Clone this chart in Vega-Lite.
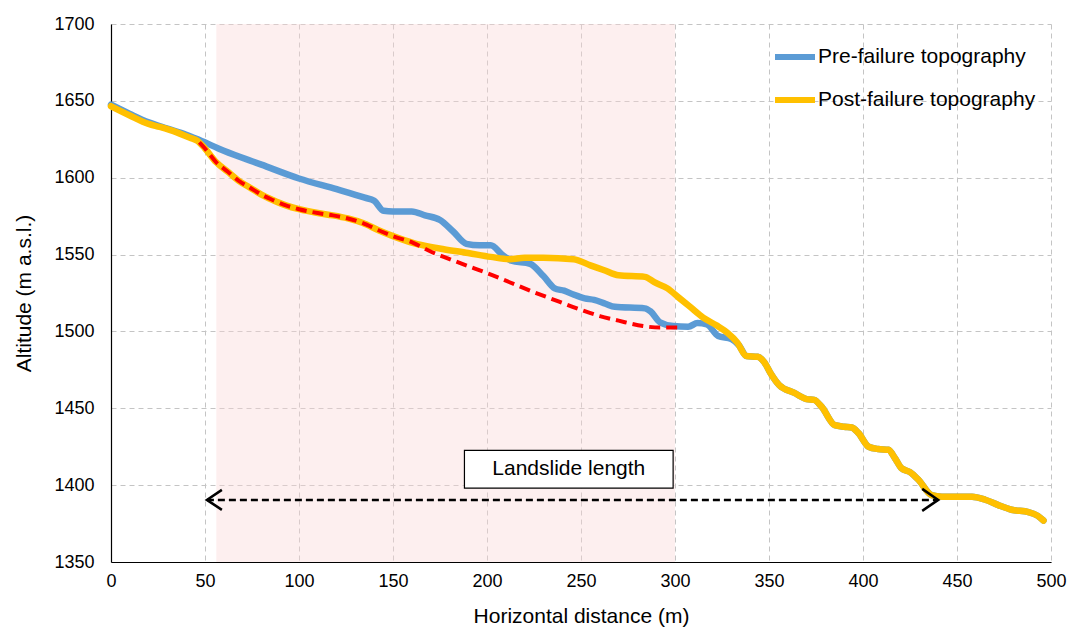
{
  "$schema": "https://vega.github.io/schema/vega-lite/v6.json",
  "width": 940,
  "height": 538,
  "autosize": {"type": "none"},
  "padding": {"left": 111, "top": 24, "right": 18, "bottom": 65},
  "background": "white",
  "config": {
    "view": {"stroke": null},
    "font": "Liberation Sans",
    "axis": {
      "grid": true,
      "gridColor": "#c4c4c4",
      "gridDash": [5, 4],
      "gridWidth": 1,
      "domainColor": "#000000",
      "domainWidth": 1.2,
      "ticks": false,
      "labelFont": "Liberation Sans",
      "labelFontSize": 18,
      "labelColor": "#000000",
      "titleFont": "Liberation Sans",
      "titleFontSize": 21,
      "titleFontWeight": "normal",
      "titleColor": "#000000",
      "format": "d"
    },
    "axisX": {"labelPadding": 10, "titlePadding": 15, "labelFlush": false},
    "axisY": {"labelPadding": 17, "titlePadding": 19},
    "legend": {
      "orient": "none",
      "legendX": 661,
      "legendY": 10,
      "padding": 0,
      "symbolOffset": 0,
      "symbolSize": 1600,
      "symbolStrokeWidth": 6,
      "labelFont": "Liberation Sans",
      "labelFontSize": 21,
      "labelColor": "#000000",
      "labelOffset": 0,
      "rowPadding": 8,
      "labelLimit": 400
    }
  },
  "datasets": {
    "topo": [
      {"series": "Pre-failure topography", "x": 0, "y": 1647.5},
      {"series": "Pre-failure topography", "x": 10, "y": 1641.5},
      {"series": "Pre-failure topography", "x": 20, "y": 1636},
      {"series": "Pre-failure topography", "x": 30, "y": 1632},
      {"series": "Pre-failure topography", "x": 40, "y": 1628},
      {"series": "Pre-failure topography", "x": 47, "y": 1624.5},
      {"series": "Pre-failure topography", "x": 60, "y": 1617.5},
      {"series": "Pre-failure topography", "x": 80, "y": 1608.5},
      {"series": "Pre-failure topography", "x": 100, "y": 1599.5},
      {"series": "Pre-failure topography", "x": 120, "y": 1592.5},
      {"series": "Pre-failure topography", "x": 135, "y": 1587},
      {"series": "Pre-failure topography", "x": 140, "y": 1585},
      {"series": "Pre-failure topography", "x": 145, "y": 1578.5},
      {"series": "Pre-failure topography", "x": 150, "y": 1578},
      {"series": "Pre-failure topography", "x": 160, "y": 1578},
      {"series": "Pre-failure topography", "x": 167, "y": 1575.5},
      {"series": "Pre-failure topography", "x": 175, "y": 1572.5},
      {"series": "Pre-failure topography", "x": 182, "y": 1565},
      {"series": "Pre-failure topography", "x": 189, "y": 1557},
      {"series": "Pre-failure topography", "x": 196, "y": 1556},
      {"series": "Pre-failure topography", "x": 202, "y": 1556},
      {"series": "Pre-failure topography", "x": 208, "y": 1550},
      {"series": "Pre-failure topography", "x": 213, "y": 1546},
      {"series": "Pre-failure topography", "x": 223, "y": 1544},
      {"series": "Pre-failure topography", "x": 230, "y": 1536},
      {"series": "Pre-failure topography", "x": 236, "y": 1528},
      {"series": "Pre-failure topography", "x": 241, "y": 1526.5},
      {"series": "Pre-failure topography", "x": 246, "y": 1524},
      {"series": "Pre-failure topography", "x": 252, "y": 1521.5},
      {"series": "Pre-failure topography", "x": 257, "y": 1520.5},
      {"series": "Pre-failure topography", "x": 263, "y": 1518},
      {"series": "Pre-failure topography", "x": 268, "y": 1516},
      {"series": "Pre-failure topography", "x": 284, "y": 1515},
      {"series": "Pre-failure topography", "x": 287, "y": 1513},
      {"series": "Pre-failure topography", "x": 292, "y": 1506},
      {"series": "Pre-failure topography", "x": 299, "y": 1503.5},
      {"series": "Pre-failure topography", "x": 307, "y": 1503},
      {"series": "Pre-failure topography", "x": 312, "y": 1505.5},
      {"series": "Pre-failure topography", "x": 317, "y": 1504.5},
      {"series": "Pre-failure topography", "x": 323, "y": 1497},
      {"series": "Pre-failure topography", "x": 330, "y": 1495},
      {"series": "Pre-failure topography", "x": 334, "y": 1491},
      {"series": "Pre-failure topography", "x": 338, "y": 1484},
      {"series": "Pre-failure topography", "x": 344, "y": 1483.5},
      {"series": "Pre-failure topography", "x": 347.5, "y": 1480},
      {"series": "Pre-failure topography", "x": 351, "y": 1472.5},
      {"series": "Pre-failure topography", "x": 355.5, "y": 1465},
      {"series": "Pre-failure topography", "x": 363.5, "y": 1460},
      {"series": "Pre-failure topography", "x": 370, "y": 1456},
      {"series": "Pre-failure topography", "x": 374, "y": 1455.5},
      {"series": "Pre-failure topography", "x": 378, "y": 1451},
      {"series": "Pre-failure topography", "x": 385, "y": 1439},
      {"series": "Pre-failure topography", "x": 390, "y": 1438},
      {"series": "Pre-failure topography", "x": 394, "y": 1437.5},
      {"series": "Pre-failure topography", "x": 397.5, "y": 1434},
      {"series": "Pre-failure topography", "x": 403, "y": 1425},
      {"series": "Pre-failure topography", "x": 408, "y": 1423.5},
      {"series": "Pre-failure topography", "x": 413.5, "y": 1423},
      {"series": "Pre-failure topography", "x": 417, "y": 1417.5},
      {"series": "Pre-failure topography", "x": 420.5, "y": 1411},
      {"series": "Pre-failure topography", "x": 425, "y": 1408.5},
      {"series": "Pre-failure topography", "x": 429.5, "y": 1403.5},
      {"series": "Pre-failure topography", "x": 436.5, "y": 1393.5},
      {"series": "Pre-failure topography", "x": 442, "y": 1392.5},
      {"series": "Pre-failure topography", "x": 458, "y": 1392.5},
      {"series": "Pre-failure topography", "x": 465, "y": 1390.5},
      {"series": "Pre-failure topography", "x": 472, "y": 1387},
      {"series": "Pre-failure topography", "x": 479, "y": 1384},
      {"series": "Pre-failure topography", "x": 488, "y": 1382.5},
      {"series": "Pre-failure topography", "x": 493, "y": 1380},
      {"series": "Pre-failure topography", "x": 496, "y": 1377},
      {"series": "Post-failure topography", "x": 0, "y": 1646.5},
      {"series": "Post-failure topography", "x": 10, "y": 1640.5},
      {"series": "Post-failure topography", "x": 20, "y": 1635},
      {"series": "Post-failure topography", "x": 26, "y": 1633},
      {"series": "Post-failure topography", "x": 35, "y": 1629.5},
      {"series": "Post-failure topography", "x": 42, "y": 1626},
      {"series": "Post-failure topography", "x": 46, "y": 1624},
      {"series": "Post-failure topography", "x": 50, "y": 1619},
      {"series": "Post-failure topography", "x": 56, "y": 1610},
      {"series": "Post-failure topography", "x": 62, "y": 1604},
      {"series": "Post-failure topography", "x": 68, "y": 1598},
      {"series": "Post-failure topography", "x": 74, "y": 1593.5},
      {"series": "Post-failure topography", "x": 80, "y": 1589},
      {"series": "Post-failure topography", "x": 86, "y": 1585.5},
      {"series": "Post-failure topography", "x": 93, "y": 1582},
      {"series": "Post-failure topography", "x": 100, "y": 1579.5},
      {"series": "Post-failure topography", "x": 110, "y": 1577},
      {"series": "Post-failure topography", "x": 118, "y": 1575.5},
      {"series": "Post-failure topography", "x": 126, "y": 1573.5},
      {"series": "Post-failure topography", "x": 134, "y": 1570.5},
      {"series": "Post-failure topography", "x": 142, "y": 1566},
      {"series": "Post-failure topography", "x": 150, "y": 1562},
      {"series": "Post-failure topography", "x": 161, "y": 1557.5},
      {"series": "Post-failure topography", "x": 170, "y": 1555},
      {"series": "Post-failure topography", "x": 177, "y": 1553.5},
      {"series": "Post-failure topography", "x": 190, "y": 1551},
      {"series": "Post-failure topography", "x": 202, "y": 1548.5},
      {"series": "Post-failure topography", "x": 212, "y": 1547},
      {"series": "Post-failure topography", "x": 220, "y": 1548},
      {"series": "Post-failure topography", "x": 230, "y": 1548},
      {"series": "Post-failure topography", "x": 246, "y": 1547},
      {"series": "Post-failure topography", "x": 255, "y": 1543},
      {"series": "Post-failure topography", "x": 262, "y": 1540},
      {"series": "Post-failure topography", "x": 270, "y": 1536.5},
      {"series": "Post-failure topography", "x": 284, "y": 1535.5},
      {"series": "Post-failure topography", "x": 289, "y": 1532},
      {"series": "Post-failure topography", "x": 296, "y": 1528},
      {"series": "Post-failure topography", "x": 302, "y": 1522},
      {"series": "Post-failure topography", "x": 308, "y": 1516},
      {"series": "Post-failure topography", "x": 315, "y": 1509},
      {"series": "Post-failure topography", "x": 322, "y": 1504},
      {"series": "Post-failure topography", "x": 328, "y": 1499},
      {"series": "Post-failure topography", "x": 333, "y": 1493},
      {"series": "Post-failure topography", "x": 338, "y": 1484},
      {"series": "Post-failure topography", "x": 344, "y": 1483.5},
      {"series": "Post-failure topography", "x": 347.5, "y": 1480},
      {"series": "Post-failure topography", "x": 351, "y": 1472.5},
      {"series": "Post-failure topography", "x": 355.5, "y": 1465},
      {"series": "Post-failure topography", "x": 363.5, "y": 1460},
      {"series": "Post-failure topography", "x": 370, "y": 1456},
      {"series": "Post-failure topography", "x": 374, "y": 1455.5},
      {"series": "Post-failure topography", "x": 378, "y": 1451},
      {"series": "Post-failure topography", "x": 385, "y": 1439},
      {"series": "Post-failure topography", "x": 390, "y": 1438},
      {"series": "Post-failure topography", "x": 394, "y": 1437.5},
      {"series": "Post-failure topography", "x": 397.5, "y": 1434},
      {"series": "Post-failure topography", "x": 403, "y": 1425},
      {"series": "Post-failure topography", "x": 408, "y": 1423.5},
      {"series": "Post-failure topography", "x": 413.5, "y": 1423},
      {"series": "Post-failure topography", "x": 417, "y": 1417.5},
      {"series": "Post-failure topography", "x": 420.5, "y": 1411},
      {"series": "Post-failure topography", "x": 425, "y": 1408.5},
      {"series": "Post-failure topography", "x": 429.5, "y": 1403.5},
      {"series": "Post-failure topography", "x": 436.5, "y": 1393.5},
      {"series": "Post-failure topography", "x": 442, "y": 1392.5},
      {"series": "Post-failure topography", "x": 458, "y": 1392.5},
      {"series": "Post-failure topography", "x": 465, "y": 1390.5},
      {"series": "Post-failure topography", "x": 472, "y": 1387},
      {"series": "Post-failure topography", "x": 479, "y": 1384},
      {"series": "Post-failure topography", "x": 488, "y": 1382.5},
      {"series": "Post-failure topography", "x": 493, "y": 1380},
      {"series": "Post-failure topography", "x": 496, "y": 1377}
    ],
    "surface": [
      {"x": 47, "y": 1623},
      {"x": 50, "y": 1619},
      {"x": 56, "y": 1610},
      {"x": 62, "y": 1604},
      {"x": 68, "y": 1598},
      {"x": 74, "y": 1593.5},
      {"x": 80, "y": 1589},
      {"x": 86, "y": 1585.5},
      {"x": 93, "y": 1582},
      {"x": 100, "y": 1579.5},
      {"x": 110, "y": 1577},
      {"x": 118, "y": 1575.5},
      {"x": 126, "y": 1573.5},
      {"x": 134, "y": 1570.5},
      {"x": 142, "y": 1566},
      {"x": 150, "y": 1562},
      {"x": 161, "y": 1557.5},
      {"x": 170, "y": 1552},
      {"x": 177, "y": 1548.5},
      {"x": 190, "y": 1542.5},
      {"x": 200, "y": 1538},
      {"x": 212, "y": 1532},
      {"x": 225, "y": 1525.5},
      {"x": 238, "y": 1519.5},
      {"x": 250, "y": 1514},
      {"x": 260, "y": 1510},
      {"x": 270, "y": 1507},
      {"x": 283, "y": 1503.5},
      {"x": 292, "y": 1502.5},
      {"x": 302, "y": 1502.5}
    ],
    "zone": [{"start": 56, "end": 300}],
    "arrow": [
      {"x": 51, "y": 1390.4, "end": "left"},
      {"x": 440, "y": 1390.4, "end": "right"}
    ],
    "label": [{"x1": 188, "x2": 299, "y1": 1398, "y2": 1422.6, "xc": 243.5, "yc": 1410.3, "text": "Landslide length"}]
  },
  "layer": [
    {
      "data": {"name": "zone"},
      "mark": {"type": "rect", "fill": "#f9d6d6", "opacity": 0.4},
      "encoding": {
        "x": {"field": "start", "type": "quantitative", "scale": {"domain": [0, 500], "nice": false, "zero": false},
              "axis": {"values": [0, 50, 100, 150, 200, 250, 300, 350, 400, 450, 500]}, "title": "Horizontal distance (m)"},
        "x2": {"field": "end"}
      }
    },
    {
      "data": {"name": "topo"},
      "transform": [{"filter": "datum.series === 'Pre-failure topography'"}],
      "mark": {"type": "line", "strokeWidth": 6.5, "strokeCap": "round", "strokeJoin": "round", "interpolate": "monotone"},
      "encoding": {
        "x": {"field": "x", "type": "quantitative", "title": "Horizontal distance (m)"},
        "y": {"field": "y", "type": "quantitative", "scale": {"domain": [1350, 1700], "nice": false, "zero": false},
              "axis": {"values": [1350, 1400, 1450, 1500, 1550, 1600, 1650, 1700]}, "title": "Altitude (m a.s.l.)"},
        "color": {"field": "series", "type": "nominal",
                  "scale": {"domain": ["Pre-failure topography", "Post-failure topography"], "range": ["#5B9BD5", "#FFC000"]},
                  "legend": {"title": null}}
      }
    },
    {
      "data": {"name": "topo"},
      "transform": [{"filter": "datum.series === 'Post-failure topography'"}],
      "mark": {"type": "line", "strokeWidth": 6.5, "strokeCap": "round", "strokeJoin": "round", "interpolate": "monotone"},
      "encoding": {
        "x": {"field": "x", "type": "quantitative", "title": "Horizontal distance (m)"},
        "y": {"field": "y", "type": "quantitative", "title": "Altitude (m a.s.l.)"},
        "color": {"field": "series", "type": "nominal", "legend": {"title": null}}
      }
    },
    {
      "data": {"name": "surface"},
      "mark": {"type": "line", "color": "#FF0000", "strokeWidth": 4, "strokeDash": [11, 6], "interpolate": "monotone"},
      "encoding": {
        "x": {"field": "x", "type": "quantitative", "title": "Horizontal distance (m)"},
        "y": {"field": "y", "type": "quantitative", "title": "Altitude (m a.s.l.)"}
      }
    },
    {
      "data": {"name": "arrow"},
      "mark": {"type": "line", "color": "#000000", "strokeWidth": 2.5, "strokeDash": [7, 4]},
      "encoding": {
        "x": {"field": "x", "type": "quantitative", "title": "Horizontal distance (m)"},
        "y": {"field": "y", "type": "quantitative", "title": "Altitude (m a.s.l.)"}
      }
    },
    {
      "data": {"name": "arrow"},
      "mark": {"type": "point", "filled": false, "stroke": "#000000", "strokeWidth": 2.5, "size": 400, "opacity": 1},
      "encoding": {
        "x": {"field": "x", "type": "quantitative", "title": "Horizontal distance (m)"},
        "y": {"field": "y", "type": "quantitative", "title": "Altitude (m a.s.l.)"},
        "shape": {"field": "end", "type": "nominal",
                  "scale": {"domain": ["left", "right"], "range": ["M1.5,-1L0,0L1.5,1", "M-1.6,-1.1L0,0L-1.6,1.1"]},
                  "legend": null}
      }
    },
    {
      "data": {"name": "label"},
      "mark": {"type": "rect", "fill": "#ffffff", "stroke": "#000000", "strokeWidth": 1.2},
      "encoding": {
        "x": {"field": "x1", "type": "quantitative", "title": "Horizontal distance (m)"},
        "x2": {"field": "x2"},
        "y": {"field": "y1", "type": "quantitative", "title": "Altitude (m a.s.l.)"},
        "y2": {"field": "y2"}
      }
    },
    {
      "data": {"name": "label"},
      "mark": {"type": "text", "font": "Liberation Sans", "fontSize": 21, "color": "#000000", "align": "center", "baseline": "middle"},
      "encoding": {
        "x": {"field": "xc", "type": "quantitative", "title": "Horizontal distance (m)"},
        "y": {"field": "yc", "type": "quantitative", "title": "Altitude (m a.s.l.)"},
        "text": {"field": "text"}
      }
    }
  ]
}
